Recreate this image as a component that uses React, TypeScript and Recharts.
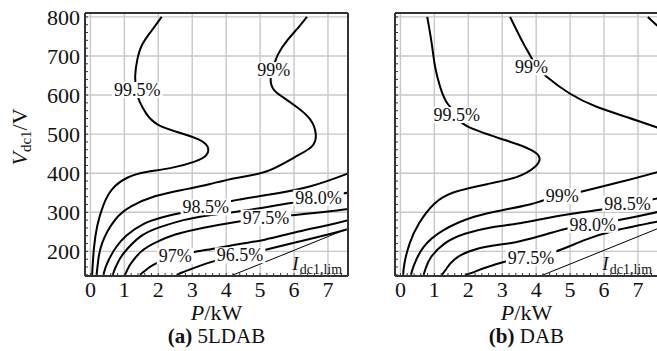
import React from 'react';
import { ComposedChart, Line, Scatter, XAxis, YAxis, CartesianGrid } from 'recharts';

const FONT = '"Liberation Serif", "DejaVu Serif", serif';

// axes
const P_DOMAIN: [number, number] = [-0.16, 7.59];
const V_DOMAIN: [number, number] = [137, 810];
const kwTicks = [0, 1, 2, 3, 4, 5, 6, 7];
const vTicks = [200, 300, 400, 500, 600, 700, 800];
const kwMinor = Array.from({ length: 38 }, (_, i) => Math.round(i * 2) / 10);
const vMinor = Array.from({ length: 34 }, (_, i) => 140 + i * 20);

// (a) 5LDAB contours, [P kW, V]
const a995 = [[2.1, 800], [1.78, 762], [1.52, 728], [1.38, 690], [1.32, 650], [1.35, 612], [1.45, 583], [1.65, 552], [2.0, 524], [2.65, 503], [3.2, 486], [3.45, 468], [3.42, 447], [3.05, 429], [2.35, 413], [1.65, 403], [1.1, 389], [0.65, 360], [0.38, 318], [0.2, 265], [0.1, 205], [0.05, 140]];
const a99 = [[6.38, 800], [6.1, 770], [5.8, 740], [5.52, 703], [5.38, 668], [5.31, 638], [5.42, 612], [5.7, 593], [6.1, 568], [6.48, 537], [6.64, 500], [6.52, 468], [6.0, 440], [5.2, 405], [4.3, 388], [3.5, 372], [2.75, 358], [1.9, 341], [1.2, 315], [0.72, 280], [0.34, 220], [0.22, 170], [0.18, 140]];
const a985 = [[0.38, 140], [0.45, 160], [0.55, 180], [0.75, 210], [1.07, 241], [1.56, 270], [2.15, 288], [2.7, 299], [3.4, 313], [4.16, 329], [5.19, 344], [6.46, 366], [7.7, 403]];
const a980 = [[0.66, 140], [0.72, 155], [0.8, 170], [0.97, 194], [1.46, 237], [2.05, 262], [2.74, 280], [3.47, 292], [4.5, 304], [5.5, 318], [6.2, 328], [6.72, 337], [7.7, 352]];
const a975 = [[1.02, 140], [1.1, 155], [1.2, 170], [1.5, 200], [1.9, 222], [2.5, 243], [3.3, 260], [4.2, 274], [5.17, 286], [6.1, 294], [7.0, 302], [7.7, 310]];
const a970 = [[1.46, 140], [1.6, 150], [1.75, 160], [2.0, 172], [2.5, 187], [3.03, 198], [3.62, 207], [4.4, 219], [5.14, 230], [6.1, 250], [7.05, 268], [7.7, 282]];
const a965 = [[2.54, 140], [2.7, 146], [3.0, 156], [3.72, 177], [4.41, 190], [5.1, 203], [6.0, 222], [7.0, 243], [7.55, 256]];
const aIlim = [[3.9, 129], [7.8, 266]];

// (b) DAB contours
const b995 = [[0.79, 800], [0.92, 733], [1.02, 673], [1.17, 621], [1.38, 579], [1.66, 549], [1.95, 521], [2.93, 489], [3.45, 474], [3.9, 457], [4.1, 438], [3.95, 415], [3.42, 390], [2.55, 372], [1.6, 352], [1.0, 322], [0.55, 272], [0.27, 220], [0.12, 170], [0.08, 140]];
const b99up = [[3.23, 800], [3.57, 741], [3.81, 703], [4.0, 675], [4.31, 647], [4.99, 604], [5.78, 570], [6.66, 544], [7.7, 513]];
const b99 = [[0.31, 140], [0.4, 165], [0.68, 211], [1.26, 254], [2.15, 288], [3.03, 306], [3.81, 320], [4.2, 330], [4.77, 342], [5.38, 354], [6.5, 378], [7.7, 406]];
const b985up = [[7.29, 800], [7.45, 787], [7.7, 768]];
const b985 = [[0.68, 140], [0.75, 158], [0.9, 185], [1.3, 220], [1.9, 245], [2.7, 262], [3.52, 272], [4.3, 285], [5.1, 297], [5.97, 308], [6.69, 320], [7.7, 338]];
const b980 = [[1.22, 140], [1.35, 155], [1.6, 180], [2.2, 205], [3.0, 218], [3.52, 226], [4.3, 244], [4.99, 260], [5.67, 268], [6.36, 279], [7.0, 290], [7.7, 303]];
const b975 = [[1.9, 140], [2.1, 145], [2.5, 158], [3.18, 176], [3.85, 187], [4.55, 199], [5.4, 228], [6.36, 254], [7.7, 278]];
const bIlim = [[3.9, 129], [7.8, 266]];

// contour labels
const aLabels = [
  { p: 1.38, v: 613, t: '99.5%' },
  { p: 5.4, v: 664, t: '99%' },
  { p: 3.4, v: 313, t: '98.5%' },
  { p: 6.72, v: 337, t: '98.0%' },
  { p: 5.17, v: 286, t: '97.5%' },
  { p: 2.5, v: 188, t: '97%' },
  { p: 4.41, v: 190, t: '96.5%' },
];
const bLabels = [
  { p: 1.66, v: 549, t: '99.5%' },
  { p: 3.86, v: 671, t: '99%' },
  { p: 4.77, v: 342, t: '99%' },
  { p: 6.69, v: 322, t: '98.5%' },
  { p: 5.67, v: 268, t: '98.0%' },
  { p: 3.85, v: 183, t: '97.5%' },
];
const ilimLabel = [{ p: 5.95, v: 153 }];

const toPts = (a: number[][]) => a.map(([p, v]) => ({ p, v }));

const charW = (c: string) => (c === '.' ? 0.25 : c === '%' ? 0.833 : 0.5);

const ContourLabel = (props: any) => {
  const { cx, cy, payload } = props;
  if (cx == null || cy == null) return null;
  const fs = 18;
  const w = payload.t.split('').reduce((s: number, c: string) => s + charW(c), 0) * fs + 4;
  return (
    <g>
      <rect x={cx - w / 2} y={cy - 8} width={w} height={16} fill="#fff" />
      <text x={cx} y={cy + 6} textAnchor="middle" fontSize={fs} style={{ fontFamily: FONT }} fill="#111">
        {payload.t}
      </text>
    </g>
  );
};

const IlimText = (props: any) => {
  const { cx, cy } = props;
  if (cx == null || cy == null) return null;
  return (
    <text x={cx} y={cy} style={{ fontFamily: FONT }} fill="#111">
      <tspan fontSize={19} fontStyle="italic">I</tspan>
      <tspan fontSize={14} dy={4} dx={1}>dc1,lim</tspan>
    </text>
  );
};

const xLabel = (caption: string, tag: string) => (props: any) => {
  const vb = props.viewBox || {};
  const cx = vb.x + vb.width / 2;
  return (
    <g style={{ fontFamily: FONT }} fill="#111">
      <text x={cx} y={vb.y + 44} textAnchor="middle" fontSize={22}>
        <tspan fontStyle="italic">P</tspan>/kW
      </text>
      <text x={cx} y={vb.y + 67} textAnchor="middle" fontSize={21}>
        <tspan fontWeight="bold">{tag}</tspan> {caption}
      </text>
    </g>
  );
};

const yLabel = (props: any) => {
  const vb = props.viewBox || {};
  const x = 27;
  const y = vb.y + 124;
  return (
    <text x={x} y={y} textAnchor="middle" fontSize={22} style={{ fontFamily: FONT }} fill="#111" transform={`rotate(-90, ${x}, ${y})`}>
      <tspan fontStyle="italic">V</tspan>
      <tspan fontSize={15} dy={4}>dc1</tspan>
      <tspan dy={-4}>/V</tspan>
    </text>
  );
};

const kwFmt = (x: number) => (Math.abs(x - Math.round(x)) < 1e-6 ? String(Math.round(x)) : '');
const vFmt = (x: number) => (x % 100 === 0 ? String(x) : '');

const FRAME = { stroke: '#333', strokeWidth: 2 };
const TICKLINE = { stroke: '#333', strokeWidth: 1 };

function Panel({ curves, labels, tag, caption, showY }: { curves: number[][][]; labels: any[]; tag: string; caption: string; showY: boolean }) {
  return (
    <ComposedChart width={360} height={351} margin={{ top: 12, right: 11, bottom: 45, left: 25 }}>
      <XAxis xAxisId="g" type="number" dataKey="p" domain={P_DOMAIN} ticks={kwTicks} allowDataOverflow hide />
      <YAxis yAxisId="g" type="number" dataKey="v" domain={V_DOMAIN} ticks={vTicks} allowDataOverflow hide />
      <CartesianGrid xAxisId="g" yAxisId="g" stroke="#c8c8c8" strokeWidth={1.4} />
      <XAxis
        type="number"
        dataKey="p"
        domain={P_DOMAIN}
        allowDataOverflow
        ticks={kwMinor}
        interval={0}
        tickFormatter={kwFmt}
        tickSize={-3}
        tickMargin={8}
        tickLine={TICKLINE}
        axisLine={FRAME}
        tick={{ fontSize: 22, fill: '#111', fontFamily: FONT }}
        height={30}
        label={xLabel(caption, tag)}
      />
      <XAxis
        xAxisId="t"
        orientation="top"
        type="number"
        dataKey="p"
        domain={P_DOMAIN}
        allowDataOverflow
        ticks={kwMinor}
        interval={0}
        tick={false}
        tickSize={-3}
        tickLine={TICKLINE}
        axisLine={FRAME}
        height={1}
      />
      <YAxis
        type="number"
        dataKey="v"
        domain={V_DOMAIN}
        allowDataOverflow
        ticks={vMinor}
        interval={0}
        tickFormatter={showY ? vFmt : () => ''}
        tickSize={-3}
        tickMargin={8}
        tickLine={TICKLINE}
        axisLine={FRAME}
        tick={{ fontSize: 22, fill: '#111', fontFamily: FONT }}
        width={60}
        label={showY ? yLabel : undefined}
      />
      <YAxis
        yAxisId="r"
        orientation="right"
        type="number"
        dataKey="v"
        domain={V_DOMAIN}
        allowDataOverflow
        ticks={vMinor}
        interval={0}
        tick={false}
        tickSize={-3}
        tickLine={TICKLINE}
        axisLine={FRAME}
        width={1}
      />
      {curves.map((c, i) => (
        <Line
          key={i}
          data={toPts(c)}
          dataKey="v"
          type={i === curves.length - 1 ? 'linear' : 'natural'}
          stroke="#000"
          strokeWidth={i === curves.length - 1 ? 1 : 2}
          dot={false}
          activeDot={false}
          isAnimationActive={false}
        />
      ))}
      <Scatter data={labels} dataKey="v" shape={ContourLabel} isAnimationActive={false} />
      <Scatter data={ilimLabel} dataKey="v" shape={IlimText} isAnimationActive={false} />
    </ComposedChart>
  );
}

export default function App() {
  return (
    <div style={{ position: 'absolute', left: 0, top: 0, width: 657, height: 351, overflow: 'hidden', background: '#fff' }}>
      <div style={{ position: 'absolute', left: 0, top: 0 }}>
        <Panel curves={[a995, a99, a985, a980, a975, a970, a965, aIlim]} labels={aLabels} tag="(a)" caption="5LDAB" showY />
      </div>
      <div style={{ position: 'absolute', left: 310, top: 0 }}>
        <Panel curves={[b995, b99up, b99, b985up, b985, b980, b975, bIlim]} labels={bLabels} tag="(b)" caption="DAB" showY={false} />
      </div>
    </div>
  );
}
